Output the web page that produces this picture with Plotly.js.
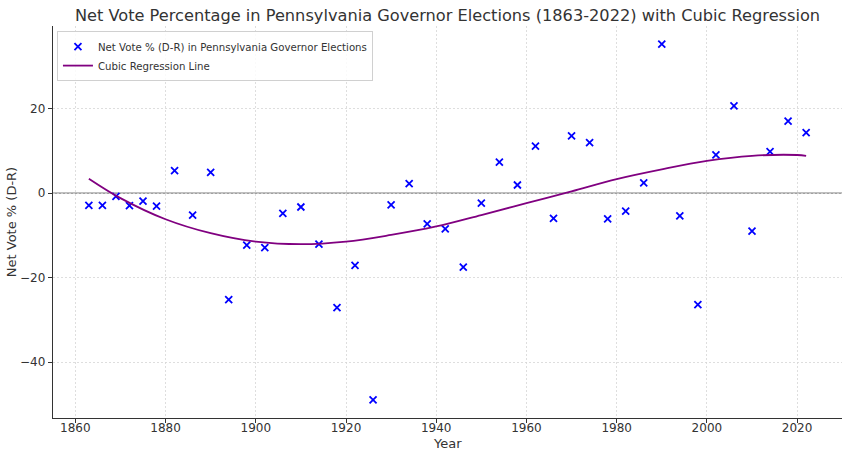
<!DOCTYPE html>
<html>
<head>
<meta charset="utf-8">
<script src="https://cdn.plot.ly/plotly-3.0.1.min.js"></script>
<style>html,body{margin:0;padding:0;background:#fff;}#chart{width:850px;height:457px;}</style>
</head>
<body>
<div id="chart"></div>
<script>
const years = [1863,1866,1869,1872,1875,1878,1882,1886,1890,1894,1898,1902,1906,1910,1914,1918,1922,1926,1930,1934,1938,1942,1946,1950,1954,1958,1962,1966,1970,1974,1978,1982,1986,1990,1994,1998,2002,2006,2010,2014,2018,2022];
const netVote = [-2.9,-2.9,-0.8,-3.0,-1.9,-3.1,5.3,-5.2,4.9,-25.2,-12.3,-12.9,-4.8,-3.3,-12.1,-27.1,-17.1,-48.9,-2.8,2.2,-7.3,-8.5,-17.5,-2.4,7.3,1.9,11.1,-6.0,13.5,11.9,-6.1,-4.3,2.4,35.2,-5.4,-26.4,9.0,20.6,-9.0,9.8,17.0,14.3];
const fitYears = [1863,1870,1880,1890,1900,1910,1920,1930,1940,1950,1960,1970,1980,1990,2000,2010,2020,2022];
const fitValues = [3.4,-1.2,-6.2,-9.5,-11.5,-12.1,-11.5,-9.9,-7.9,-5.2,-2.4,0.4,3.3,5.6,7.6,8.8,9.0,8.8];
const xTicks = [1860,1880,1900,1920,1940,1960,1980,2000,2020];
const yTicks = [-40,-20,0,20];

const font = "DejaVu Sans, sans-serif";
const traces = [
  {x: years, y: netVote, type: 'scatter', mode: 'markers',
   name: 'Net Vote % (D-R) in Pennsylvania Governor Elections',
   marker: {symbol: 'x-thin', size: 7, color: '#0000ff', line: {color: '#0000ff', width: 1.8}}},
  {x: fitYears, y: fitValues, type: 'scatter', mode: 'lines',
   name: 'Cubic Regression Line',
   line: {color: '#800080', width: 1.8, shape: 'spline', smoothing: 1}}
];
const layout = {
  width: 850, height: 457,
  margin: {l: 53, r: 8, t: 26, b: 39},
  paper_bgcolor: '#fff', plot_bgcolor: '#fff',
  font: {family: font, size: 12, color: '#333'},
  title: {text: 'Net Vote Percentage in Pennsylvania Governor Elections (1863-2022) with Cubic Regression',
          font: {family: font, size: 16.2, color: '#333'},
          x: 0.5, xref: 'paper', xanchor: 'center', y: 0.967, yref: 'container', yanchor: 'middle'},
  xaxis: {range: [1855.05, 2029.95], tickvals: xTicks, ticktext: xTicks.map(String),
          showgrid: true, gridcolor: '#d6d6d6', griddash: '2px,2px', gridwidth: 0.8,
          zeroline: false, showline: true, linecolor: '#333', linewidth: 1.2,
          ticks: 'outside', ticklen: 4, tickcolor: '#333', ticklabelstandoff: -6,
          tickfont: {family: font, size: 12, color: '#333'}},
  yaxis: {range: [-53.2, 39.5], tickvals: yTicks,
          showgrid: true, gridcolor: '#d6d6d6', griddash: '2px,2px', gridwidth: 0.8,
          zeroline: false, showline: true, linecolor: '#333', linewidth: 1.2,
          ticks: 'outside', ticklen: 4, tickcolor: '#333', tickfont: {family: font, size: 12, color: '#333'},
          title: {text: 'Net Vote % (D-R)', font: {family: font, size: 13, color: '#333'}, standoff: 0}},
  annotations: [{text: 'Year', xref: 'paper', yref: 'paper', x: 0.5, y: -0.064,
                 xanchor: 'center', yanchor: 'middle', showarrow: false,
                 font: {family: font, size: 13, color: '#333'}}],
  shapes: [{type: 'line', xref: 'paper', x0: 0, x1: 1, yref: 'y', y0: 0, y1: 0,
            line: {color: '#808080', width: 1.2}, layer: 'below'}],
  legend: {x: 0.005, y: 0.987, xanchor: 'left', yanchor: 'top',
           bgcolor: 'rgba(255,255,255,0.85)', bordercolor: '#d0d0d0', borderwidth: 1,
           font: {family: font, size: 10.2, color: '#333'}, tracegroupgap: 0, itemwidth: 30},
  showlegend: true
};
Plotly.newPlot('chart', traces, layout, {displayModeBar: false, staticPlot: true});
</script>
</body>
</html>
